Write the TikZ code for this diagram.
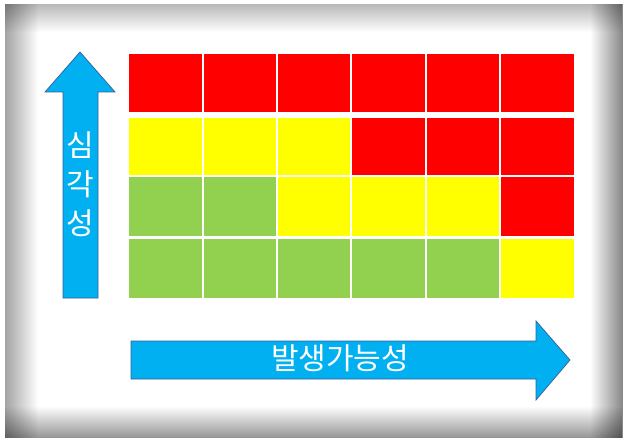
\documentclass[tikz,border=0pt]{standalone}
\usepackage{fontspec}
\newfontfamily\korfont{Noto Sans CJK KR}
\usetikzlibrary{positioning,fadings}
\definecolor{rot}{HTML}{FF0000}
\definecolor{gelb}{HTML}{FFFF00}
\definecolor{gruen}{HTML}{92D050}
\definecolor{pfeilblau}{HTML}{00B0F0}
\definecolor{pfeilrand}{HTML}{3A5C98}
\tikzfading[name=nachrechts, left color=transparent!0, right color=transparent!100]
\tikzfading[name=nachlinks, left color=transparent!100, right color=transparent!0]
\tikzfading[name=nachunten, top color=transparent!0, bottom color=transparent!100]
\tikzfading[name=nachoben, top color=transparent!100, bottom color=transparent!0]
\tikzset{
    % Define style for matrix cells
    feld/.style={
           rectangle,
           inner sep=0pt,
           minimum width=72.4pt,
           anchor=north west},
    % Define style for the big arrows
    pfeil/.style={
           fill=pfeilblau,
           draw=pfeilrand,
           line width=0.7pt,
           line join=miter},
    % Define style for arrow labels
    achsentext/.style={
           font=\korfont\fontsize{30}{39}\selectfont,
           text=white,
           inner sep=0pt,
           align=center}
}

\begin{document}
\begin{tikzpicture}[x=1pt,y=-1pt]
  \useasboundingbox (0,0) rectangle (623,438);
  % frame with soft shadow
  \fill[white] (0,0) rectangle (623,438);
  \fill[black, fill opacity=0.36, path fading=nachrechts] (5,4) rectangle (38,438);
  \fill[black, fill opacity=0.28, path fading=nachunten] (5,4) rectangle (623,32);
  \fill[black, fill opacity=0.48, path fading=nachlinks] (590,4) rectangle (623,438);
  \fill[black, fill opacity=0.42, path fading=nachoben] (5,406) rectangle (623,438);

  % risk matrix
  \foreach \r/\top/\h/\farben in {
      1/54/58/{rot,rot,rot,rot,rot,rot},
      2/118/57/{gelb,gelb,gelb,rot,rot,rot},
      3/177/59/{gruen,gruen,gelb,gelb,gelb,rot},
      4/239/59/{gruen,gruen,gruen,gruen,gruen,gelb}}
    \foreach \farbe [count=\c] in \farben
      \node[feld, fill=\farbe, minimum height=\h pt] (f-\r-\c) at ({129+74.4*(\c-1)},\top) {};

  % severity arrow
  \draw[pfeil] (63,298) -- (63,92) -- (45,92) -- (80,52) -- (115,92) -- (98,92) -- (98,298) -- cycle;
  \node[achsentext] (schwere) at (80,184) {심\\각\\성};

  % likelihood arrow
  \draw[pfeil] (131,341) -- (536,341) -- (536,321) -- (570,360) -- (536,400) -- (536,379) -- (131,379) -- cycle;
  \node[achsentext] (wahrsch) at (340,358) {발생가능성};
\end{tikzpicture}
\end{document}
